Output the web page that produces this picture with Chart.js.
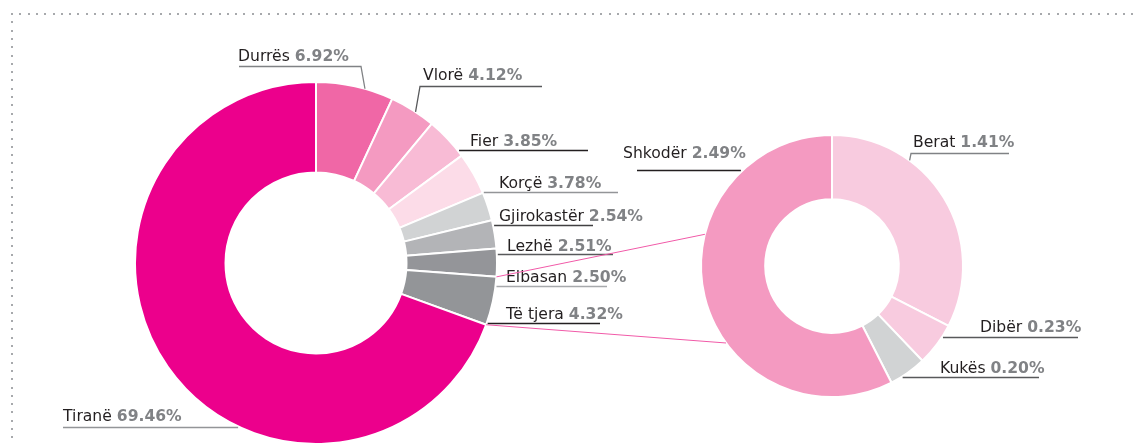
<!DOCTYPE html>
<html>
<head>
<meta charset="utf-8">
<script src="https://cdn.jsdelivr.net/npm/chart.js@4"></script>
<style>
  body { margin: 0; background: #fff; }
  #wrap { position: relative; width: 1135px; height: 445px; }
  #wrap canvas { position: absolute; left: 0; top: 0; }
</style>
</head>
<body>
<div id="wrap">
  <canvas id="main_pie" width="1135" height="445"></canvas>
  <canvas id="other_pie" width="1135" height="445"></canvas>
</div>
<script>
"use strict";
const mainLabels = ["Durrës", "Vlorë", "Fier", "Korçë", "Gjirokastër", "Lezhë", "Elbasan", "Të tjera", "Tiranë"];
const mainValues = [6.92, 4.12, 3.85, 3.78, 2.54, 2.51, 2.5, 4.32, 69.46];
const otherLabels = ["Berat", "Dibër", "Kukës", "Shkodër"];
const otherValues = [1.41, 0.23, 0.2, 2.49];

const mainColors = ["#f067a6", "#f49ac1", "#f8bbd5", "#fcdce8", "#d1d3d4", "#b3b4b7", "#949599", "#939598", "#ec008c"];
const otherColors = ["#f8cbdf", "#f8cbdf", "#d1d3d4", "#f49ac1"];

// where each label sits: text x / baseline, underline y and its outer end.
// lead = fraction along the slice edge for the short tick, else the underline runs to the ring
const mainPlaces = [
  { tx: 238, ty: 61, uy: 66.5, x1: 239, x2: 361, lead: 0.63, color: "#808285" },
  { tx: 423, ty: 80, uy: 86.5, x1: 542, x2: 420, lead: 0.57, color: "#58595b" },
  { tx: 470, ty: 146, uy: 150.5, x2: 588, side: 1, color: "#231f20" },
  { tx: 499, ty: 188, uy: 192.5, x2: 618, side: 1, color: "#939598" },
  { tx: 499, ty: 221, uy: 225.5, x2: 593, side: 1, color: "#414042" },
  { tx: 507, ty: 251, uy: 254.5, x2: 613, side: 1, color: "#58595b" },
  { tx: 506, ty: 282, uy: 286.5, x2: 607, side: 1, color: "#a7a9ac" },
  { tx: 506, ty: 319, uy: 323.5, x2: 600, side: 1, color: "#231f20" },
  { tx: 63, ty: 421, uy: 427.5, x2: 63, side: -1, color: "#939598" },
];
const otherPlaces = [
  { tx: 913, ty: 147, uy: 153.5, x1: 1009, x2: 911, lead: 0.31, color: "#808285" },
  { tx: 980, ty: 332, uy: 337.5, x2: 1078, side: 1, color: "#58595b" },
  { tx: 940, ty: 373, uy: 377.5, x2: 1039, side: 1, color: "#58595b" },
  { tx: 623, ty: 158, uy: 170.5, x2: 637, side: -1, color: "#231f20" },
];
// angles (degrees from top, clockwise) where the pink links meet the small ring
const linkAngles = [284, 234];

const FONT = "'DejaVu Sans', sans-serif";

function arcPoint(arc, ang, extra = 0) {
  const r = arc.outerRadius + extra;
  return [arc.x + r * Math.cos(ang), arc.y + r * Math.sin(ang)];
}

function drawLabels(chart, names, values, places) {
  const ctx = chart.ctx;
  const arcs = chart.getDatasetMeta(0).data;
  ctx.save();
  places.forEach((p, i) => {
    const arc = arcs[i];
    ctx.strokeStyle = p.color;
    ctx.lineWidth = 1.3;
    ctx.beginPath();
    if (p.lead !== undefined) {
      const ang = arc.startAngle + p.lead * (arc.endAngle - arc.startAngle);
      const pt = arcPoint(arc, ang);
      ctx.moveTo(p.x1, p.uy);
      ctx.lineTo(p.x2, p.uy);
      ctx.lineTo(pt[0], pt[1]);
    } else {
      const r = arc.outerRadius + 1;
      const dy = p.uy - arc.y;
      const xr = arc.x + p.side * Math.sqrt(Math.max(r * r - dy * dy, 0));
      ctx.moveTo(xr, p.uy);
      ctx.lineTo(p.x2, p.uy);
    }
    ctx.stroke();

    ctx.textBaseline = "alphabetic";
    ctx.textAlign = "left";
    ctx.font = "15.6px " + FONT;
    ctx.fillStyle = "#231f20";
    const name = names[i] + " ";
    ctx.fillText(name, p.tx, p.ty);
    const w = ctx.measureText(name).width;
    ctx.font = "bold 15.6px " + FONT;
    ctx.fillStyle = "#808285";
    ctx.fillText(values[i].toFixed(2) + "%", p.tx + w, p.ty);
  });
  ctx.restore();
}

const borderDots = {
  id: "borderDots",
  beforeDraw(chart) {
    const ctx = chart.ctx;
    ctx.save();
    ctx.fillStyle = "#a7a9ac";
    for (let x = 11; x < chart.width; x += 8.3) ctx.fillRect(Math.round(x), 13, 2, 2);
    for (let y = 21.3; y < chart.height; y += 8.3) ctx.fillRect(11, Math.round(y), 2, 2);
    ctx.restore();
  },
};

const baseOptions = {
  responsive: false,
  animation: false,
  devicePixelRatio: 1,
  plugins: { legend: { display: false }, tooltip: { enabled: false } },
};

const mainChart = new Chart(document.getElementById("main_pie"), {
  type: "doughnut",
  data: {
    labels: mainLabels,
    datasets: [{ data: mainValues, backgroundColor: mainColors, borderColor: "#fff", borderWidth: 2 }],
  },
  options: {
    ...baseOptions,
    cutout: "50%",
    layout: { padding: { left: 134, right: 637, top: 81, bottom: 0 } },
  },
  plugins: [
    borderDots,
    { id: "mainLabels", afterDraw: (c) => drawLabels(c, mainLabels, mainValues, mainPlaces) },
  ],
});

new Chart(document.getElementById("other_pie"), {
  type: "doughnut",
  data: {
    labels: otherLabels,
    datasets: [{ data: otherValues, backgroundColor: otherColors, borderColor: "#fff", borderWidth: 2 }],
  },
  options: {
    ...baseOptions,
    cutout: "51%",
    layout: { padding: { left: 700, right: 171, top: 134, bottom: 47 } },
  },
  plugins: [
    { id: "otherLabels", afterDraw: (c) => drawLabels(c, otherLabels, otherValues, otherPlaces) },
    {
      id: "links",
      afterDraw(c) {
        // pink lines from the "Të tjera" slice to the breakdown ring
        const src = mainChart.getDatasetMeta(0).data[7];
        const dst = c.getDatasetMeta(0).data[0];
        const froms = [arcPoint(src, src.startAngle), arcPoint(src, src.endAngle)];
        const ctx = c.ctx;
        ctx.save();
        ctx.strokeStyle = "#f15aa8";
        ctx.lineWidth = 1;
        froms.forEach((f, i) => {
          const to = arcPoint(dst, (linkAngles[i] * Math.PI) / 180 - Math.PI / 2);
          ctx.beginPath();
          ctx.moveTo(f[0], f[1]);
          ctx.lineTo(to[0], to[1]);
          ctx.stroke();
        });
        ctx.restore();
      },
    },
  ],
});
</script>
</body>
</html>
